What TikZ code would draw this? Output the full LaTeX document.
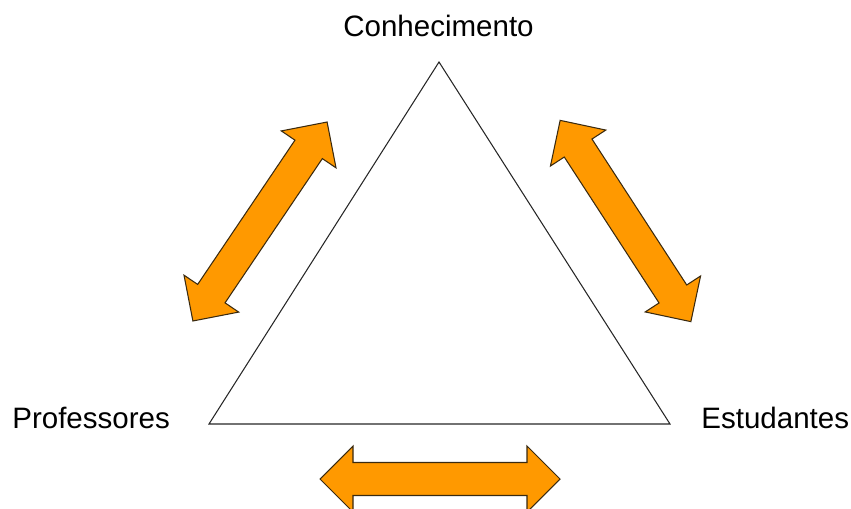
\documentclass[tikz,border=0pt]{standalone}
\usepackage{fontspec}
\setmainfont{Liberation Sans}
\usetikzlibrary{positioning}

\definecolor{flowfill}{HTML}{FF9900}
\definecolor{flowline}{HTML}{3A2A10}

\begin{document}
\begin{tikzpicture}[
    x=0.02cm, y=0.02cm,
    every node/.style={font=\fontsize{16.8}{20}\selectfont, inner sep=0pt},
    % Triangle border
    side/.style={draw=black!85, line width=0.6pt, line join=miter},
    % Orange two-way arrow
    flow/.style={fill=flowfill, draw=flowline, line width=0.6pt, line join=miter},
    twoway/.pic={
        \draw[flow] (-120,0) -- (-87,33) -- (-87,16.5) -- (87,16.5) -- (87,33)
            -- (120,0) -- (87,-33) -- (87,-16.5) -- (-87,-16.5) -- (-87,-33) -- cycle;
    },
]

% Canvas
\useasboundingbox (0,0) rectangle (851,508);

% ====================================================
% TRIANGLE
% ====================================================
\coordinate (T-top) at (439,446);
\coordinate (T-left) at (209,84);
\coordinate (T-right) at (670,84);

\draw[side] (T-top) -- (T-left) -- (T-right) -- cycle;

% Corner labels
\node[anchor=base] (L-con) at (438.5,471) {Conhecimento};
\node[anchor=base west] (L-prof) at (12,80) {Professores};
\node[anchor=base west] (L-est) at (701,80) {Estudantes};

% ====================================================
% ARROWS
% ====================================================
\pic[rotate=56] (A-left) at (260,286.5) {twoway};
\pic[rotate=-57] (A-right) at (625.5,287) {twoway};
\pic (A-bottom) at (440,29) {twoway};

\end{tikzpicture}
\end{document}
